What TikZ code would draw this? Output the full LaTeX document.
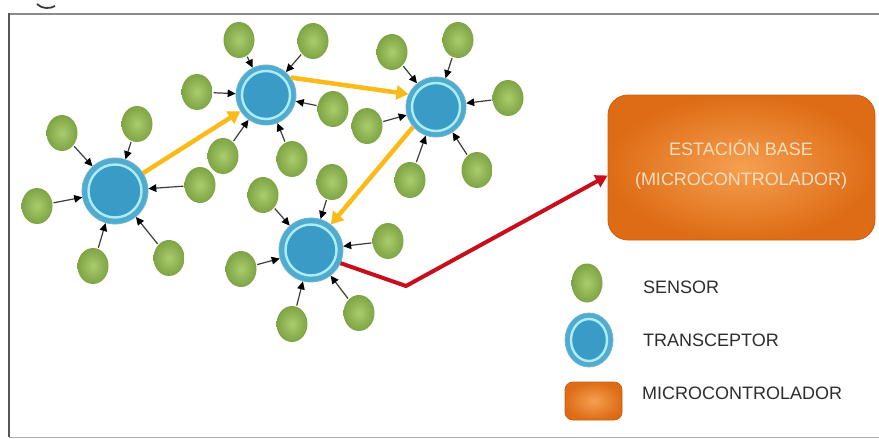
\documentclass[tikz,border=0pt]{standalone}
\usepackage{fontspec}
\setmainfont{Liberation Sans}
\usetikzlibrary{shapes.geometric,arrows.meta}
\definecolor{gin}{RGB}{170,204,110}
\definecolor{gout}{RGB}{126,164,68}
\definecolor{bouter}{RGB}{82,170,205}
\definecolor{binner}{RGB}{58,155,198}
\definecolor{bring}{RGB}{170,238,252}
\definecolor{oin}{RGB}{245,160,80}
\definecolor{oout}{RGB}{222,108,22}
\definecolor{oedge}{RGB}{200,95,20}
\definecolor{yarrow}{RGB}{250,186,24}
\definecolor{rarrow}{RGB}{200,14,28}
\definecolor{sline}{RGB}{60,60,60}
\definecolor{btext}{RGB}{250,222,192}
\definecolor{ltext}{RGB}{45,45,45}
\begin{document}
\begin{tikzpicture}[x=1pt,y=-1pt,
  sensor/.style={ellipse, minimum width=31pt, minimum height=36pt, inner sep=0pt,
    inner color=gin, outer color=gout},
  trx/.style={circle, inner sep=0pt, fill=bouter, draw=bouter!85!white, line width=0.8pt},
  ring/.style={draw=bring, line width=2.4pt, fill=binner},
  sarrow/.style={draw=sline, line width=1.2pt, shorten <=1pt,
    -{Triangle[length=8pt,width=7.5pt,color=black]}},
  yarr/.style={draw=yarrow, line width=4.5pt, -{Triangle[length=12pt,width=14pt]}},
  rarr/.style={draw=rarrow, line width=4pt, line join=miter, -{Triangle[length=12pt,width=13pt]}},
  orangebox/.style={rectangle, inner color=oin, outer color=oout, draw=oedge, line width=0.8pt},
  legtext/.style={anchor=west, inner sep=0pt, text=ltext, font=\fontsize{18pt}{20pt}\selectfont},
]
\useasboundingbox (0,0) rectangle (879,439);
\fill[white] (0,0) rectangle (879,439);
% frame
\draw[line width=2pt, draw={rgb,255:red,140;green,140;blue,140}] (9,13.5) -- (879,13.5);
\draw[line width=2.5pt, draw={rgb,255:red,85;green,85;blue,85}] (9,12.5) -- (9,437);
\draw[line width=1.5pt, draw={rgb,255:red,175;green,175;blue,175}] (9,437.5) -- (879,437.5);
\draw[line width=1.8pt, draw={rgb,255:red,60;green,60;blue,60}] (37,4) .. controls (42,9) and (50,9) .. (55,6);

% transceivers
\node[trx, minimum size=66pt] (T1) at (115,191) {};
\node[trx, minimum size=60pt] (T2) at (266,95) {};
\node[trx, minimum size=60pt] (T3) at (436,107) {};
\node[trx, minimum size=64pt] (T4) at (311,250) {};
\foreach \n/\r in {T1/26.5,T2/24,T3/24,T4/25.5}
  \draw[ring] (\n.center) circle[radius=\r pt];

% sensors
\node[sensor] (a1) at (62,133) {};
\node[sensor] (a2) at (137,124) {};
\node[sensor] (a3) at (37,206) {};
\node[sensor] (a4) at (93,266) {};
\node[sensor] (a5) at (169,258) {};
\node[sensor] (a6) at (200,185) {};
\node[sensor] (b1) at (239,40) {};
\node[sensor] (b2) at (313,41) {};
\node[sensor] (b3) at (197,92) {};
\node[sensor] (b4) at (333,109) {};
\node[sensor] (b5) at (223,156) {};
\node[sensor] (b6) at (292,159) {};
\node[sensor] (c1) at (392,52) {};
\node[sensor] (c2) at (458,40) {};
\node[sensor] (c3) at (508,98) {};
\node[sensor] (c4) at (367,126) {};
\node[sensor] (c5) at (410,180) {};
\node[sensor] (c6) at (477,170) {};
\node[sensor] (d1) at (263,195) {};
\node[sensor] (d2) at (332,182) {};
\node[sensor] (d3) at (388,241) {};
\node[sensor] (d4) at (241,269) {};
\node[sensor] (d5) at (292,324) {};
\node[sensor] (d6) at (359,313) {};

% sensor arrows
\foreach \s in {a1,a2,a3,a4,a5,a6} \draw[sarrow] (\s) -- (T1);
\foreach \s in {b1,b2,b3,b4,b5,b6} \draw[sarrow] (\s) -- (T2);
\foreach \s in {c1,c2,c3,c4,c5,c6} \draw[sarrow] (\s) -- (T3);
\foreach \s in {d1,d2,d3,d4,d5,d6} \draw[sarrow] (\s) -- (T4);

% base station
\node[orangebox, rounded corners=20pt, minimum width=267pt, minimum height=145pt] (base) at (741.5,167.5) {};
\node[text=btext, align=center, font=\fontsize{18pt}{30pt}\selectfont] (basetext) at (741,165)
  {ESTACIÓN BASE\\(MICROCONTROLADOR)};

% yellow links
\draw[yarr] (T1) -- (T2);
\draw[yarr] (T2.35) -- (T3.155);
\draw[yarr] (T3.221) -- (T4.52);

% red link
\coordinate (rbend) at (406,286);
\draw[rarr] (T4.-24) -- (rbend) -- ([yshift=-8pt]base.west);

% legend
\node[sensor, minimum width=31pt, minimum height=39pt] (Lsensor) at (587,283) {};
\node[trx, ellipse, minimum width=48pt, minimum height=54pt] (Ltrx) at (589,340) {};
\draw[ring] (Ltrx.center) ellipse[x radius=18pt, y radius=21pt];
\node[orangebox, rounded corners=8pt, minimum width=57pt, minimum height=38pt] (Lmicro) at (593.5,401) {};
\node[legtext] (Lt1) at (643,287) {SENSOR};
\node[legtext] (Lt2) at (643,340) {TRANSCEPTOR};
\node[legtext] (Lt3) at (642,393) {MICROCONTROLADOR};
\end{tikzpicture}
\end{document}
